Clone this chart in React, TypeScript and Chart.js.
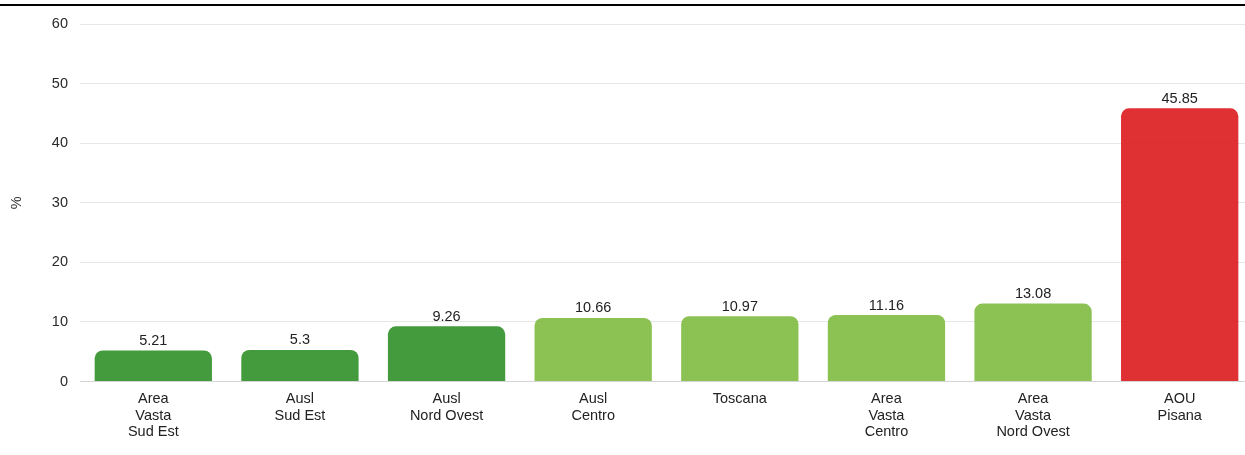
import React, { useEffect, useRef } from "react";
import { Chart, registerables } from "chart.js";

Chart.register(...registerables);

const categories: (string | string[])[] = [
  ["Area", "Vasta", "Sud Est"],
  ["Ausl", "Sud Est"],
  ["Ausl", "Nord Ovest"],
  ["Ausl", "Centro"],
  "Toscana",
  ["Area", "Vasta", "Centro"],
  ["Area", "Vasta", "Nord Ovest"],
  ["AOU", "Pisana"],
];

const values: number[] = [5.21, 5.3, 9.26, 10.66, 10.97, 11.16, 13.08, 45.85];

const barColors: string[] = [
  "rgba(52,147,45,0.92)",
  "rgba(52,147,45,0.92)",
  "rgba(52,147,45,0.92)",
  "rgba(130,189,68,0.92)",
  "rgba(130,189,68,0.92)",
  "rgba(130,189,68,0.92)",
  "rgba(130,189,68,0.92)",
  "rgba(220,30,35,0.92)",
];

const yTicks: number[] = [0, 10, 20, 30, 40, 50, 60];
const yTitle = "%";

const FONT = "'Liberation Sans', Arial, sans-serif";
const FS = 14.5;

const valueLabels = {
  id: "valueLabels",
  afterDatasetsDraw(chart: any) {
    const ctx = chart.ctx;
    const meta = chart.getDatasetMeta(0);
    ctx.save();
    ctx.font = `${FS}px ${FONT}`;
    ctx.fillStyle = "#222";
    ctx.textAlign = "center";
    ctx.textBaseline = "alphabetic";
    meta.data.forEach((bar: any, i: number) => {
      ctx.fillText(String(values[i]), bar.x, bar.y - 5.5);
    });
    ctx.restore();
  },
};

export default function App() {
  const ref = useRef<HTMLCanvasElement | null>(null);

  useEffect(() => {
    if (!ref.current) return;
    Chart.defaults.font.family = FONT;
    Chart.defaults.font.size = FS;
    const chart = new Chart(ref.current, {
      type: "bar",
      data: {
        labels: categories,
        datasets: [
          {
            data: values,
            backgroundColor: barColors,
            borderRadius: 8,
            borderSkipped: "start",
            barPercentage: 1,
            categoryPercentage: 0.8,
          },
        ],
      },
      options: {
        animation: false,
        responsive: false,
        devicePixelRatio: 1,
        layout: { padding: { top: 24, right: 7, bottom: 0, left: 0 } },
        plugins: {
          legend: { display: false },
          tooltip: { enabled: false },
        },
        scales: {
          x: {
            grid: { display: false, drawTicks: false },
            border: { display: true, color: "#d4d4d4", width: 1 },
            ticks: {
              color: "#222",
              font: { size: FS, lineHeight: "16.5px" },
              padding: 9.5,
              maxRotation: 0,
              autoSkip: false,
            },
            afterFit(scale: any) {
              scale.height = 73.5;
            },
          },
          y: {
            min: 0,
            max: 60,
            afterBuildTicks(scale: any) {
              scale.ticks = yTicks.map((v) => ({ value: v }));
            },
            grid: { color: "#e6e6e6", drawTicks: false },
            border: { display: false },
            ticks: { color: "#2a2a2a", padding: 12, font: { size: FS } },
            title: {
              display: true,
              text: yTitle,
              color: "#2a2a2a",
              font: { size: FS },
              padding: { top: 8, bottom: 0 },
            },
            afterFit(scale: any) {
              scale.width = 80;
            },
          },
        },
      },
      plugins: [valueLabels],
    });
    return () => chart.destroy();
  }, []);

  return (
    <div
      style={{
        position: "absolute",
        left: 0,
        top: 0,
        width: 1245,
        height: 455,
        overflow: "hidden",
        background: "#fff",
      }}
    >
      <canvas
        ref={ref}
        width={1260}
        height={455}
        style={{ display: "block", position: "absolute", left: 0, top: 0 }}
      />
      <div
        style={{
          position: "absolute",
          left: 0,
          top: 4,
          width: "100%",
          height: 2,
          background: "#000",
        }}
      />
    </div>
  );
}
